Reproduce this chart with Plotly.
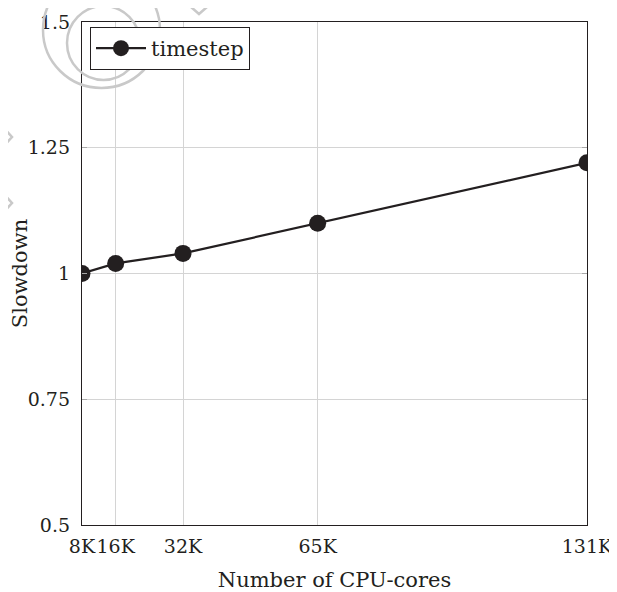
import plotly.graph_objects as go

cores = [8192, 16384, 32768, 65536, 131072]
slowdown = [1.0, 1.02, 1.04, 1.10, 1.22]
x_tick_labels = ["8K", "16K", "32K", "65K", "131K"]
y_ticks = [0.5, 0.75, 1.0, 1.25, 1.5]
y_tick_labels = ["0.5", "0.75", "1", "1.25", "1.5"]

# page body has an 8px margin: figure placed at (8, 8) in the window
OFF = 8
W, H = 609, 584
L, R, T, B = 74, 30, 14, 67
pw, ph = W - L - R, H - T - B

def px(x):  # window pixel -> paper
    return (x - OFF - L) / pw

def py(y):
    return (H - B - (y - OFF)) / ph

FONT = "DejaVu Serif"
INK = "#231f20"

fig = go.Figure()
fig.add_trace(go.Scatter(
    x=cores, y=slowdown, mode="lines+markers", name="timestep",
    line=dict(color=INK, width=2.2),
    marker=dict(size=17, color=INK),
))

# watermark decoration (light gray circles / diamonds)
wm = "#c9c9c9"
shapes = [
    dict(type="circle", xref="paper", yref="paper",
         x0=px(43), x1=px(160), y0=py(-28), y1=py(88),
         line=dict(color=wm, width=2.5), layer="above"),
    dict(type="circle", xref="paper", yref="paper",
         x0=px(67), x1=px(140), y0=py(6), y1=py(80),
         line=dict(color=wm, width=2.5), layer="above"),
    dict(type="path", xref="paper", yref="paper",
         path=f"M {px(183)} {py(0)} L {px(199)} {py(14)} L {px(215)} {py(0)}",
         line=dict(color=wm, width=2.5), layer="above"),
    dict(type="path", xref="paper", yref="paper",
         path=f"M {px(0)} {py(124)} L {px(12)} {py(137)} L {px(0)} {py(150)}",
         line=dict(color=wm, width=2.5), layer="above"),
    dict(type="path", xref="paper", yref="paper",
         path=f"M {px(0)} {py(190)} L {px(12)} {py(203)} L {px(0)} {py(216)}",
         line=dict(color=wm, width=2.5), layer="above"),
]

fig.update_layout(
    width=W, height=H,
    margin=dict(l=L, r=R, t=T, b=B, autoexpand=False),
    paper_bgcolor="white", plot_bgcolor="white",
    font=dict(family=FONT, size=19, color=INK),
    showlegend=True,
    legend=dict(x=px(90), y=py(27), xanchor="left", yanchor="top",
                bgcolor="white", bordercolor=INK, borderwidth=1,
                font=dict(size=21), itemwidth=50, tracegroupgap=0),
    shapes=shapes,
    xaxis=dict(
        range=[8192, 131072], tickvals=cores, ticktext=x_tick_labels,
        tickangle=0, ticklabeloverflow="allow",
        showgrid=True, gridcolor="#d4d4d4", gridwidth=1,
        showline=True, linecolor=INK, linewidth=1.3, mirror=True,
        ticks="", zeroline=False, automargin=False, ticklabelstandoff=4,
        title=dict(text="Number of CPU-cores", standoff=16, font=dict(size=21)),
    ),
    yaxis=dict(
        range=[0.5, 1.5], tickvals=y_ticks, ticktext=y_tick_labels,
        showgrid=True, gridcolor="#d4d4d4", gridwidth=1,
        showline=True, linecolor=INK, linewidth=1.3, mirror="ticks",
        ticks="inside", ticklen=5, tickcolor="#a8a8a8", zeroline=False,
        automargin=False, ticklabelstandoff=7,
        title=dict(text="Slowdown", standoff=6, font=dict(size=21)),
    ),
)

fig.write_html("out.html")
